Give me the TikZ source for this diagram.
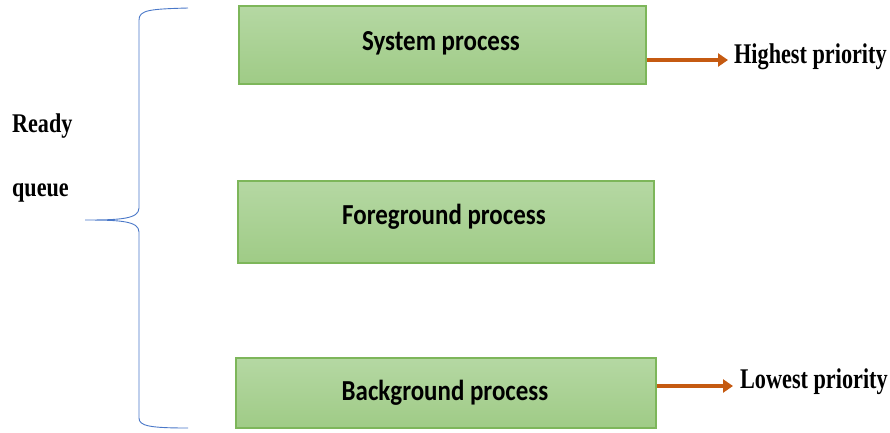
\documentclass[tikz,border=0pt]{standalone}
\usepackage{fontspec}
\setmainfont{Liberation Serif}
\newfontfamily\boxfont{Carlito}
\usepackage{xcolor}
\usetikzlibrary{arrows.meta}

\definecolor{boxtop}{HTML}{B5D8A3}
\definecolor{boxbot}{HTML}{9FCB86}
\definecolor{boxline}{HTML}{7DB65A}
\definecolor{arrowcol}{HTML}{C55A11}
\definecolor{bracecol}{HTML}{4A78C8}

\tikzset{
  procbox/.style={draw=boxline, line width=1.1pt, top color=boxtop, bottom color=boxbot,
    minimum width=#1, inner sep=0pt},
  proclabel/.style={font=\boxfont\bfseries\fontsize{29}{32}\selectfont, xscale=0.86, inner sep=0pt},
  prio/.style={font=\bfseries\fontsize{28.5}{30}\selectfont, xscale=0.78, anchor=west, inner sep=0pt},
  prioarrow/.style={arrowcol, line width=4.5pt, -{Triangle[length=10pt,width=13pt]}}
}

\begin{document}
\begin{tikzpicture}[x=1pt,y=1pt]
\useasboundingbox (0,0) rectangle (890,-432);
% the three process classes
\node[procbox=407pt, minimum height=78pt] (sys) at (442.5,-45) {};
\node[procbox=416pt, minimum height=82pt] (fg) at (446,-222) {};
\node[procbox=420pt, minimum height=70pt] (bg) at (446,-393) {};
\node[proclabel] (syst) at (441,-43) {System process};
\node[proclabel] (fgt) at (444,-217) {Foreground process};
\node[proclabel] (bgt) at (445,-393) {Background process};
% priority labels
\node[prio] (hi) at (734,-57) {Highest priority};
\node[prio] (lo) at (740,-382) {Lowest priority};
\draw[prioarrow, shorten >=6pt] (sys.east |- 0,-60) -- (hi.west |- 0,-60);
\draw[prioarrow, shorten >=7pt] (bg.east |- 0,-386) -- (lo.west |- 0,-386);
% brace for the ready queue
\coordinate (tip) at (85,-220);
\draw[bracecol, line width=0.9pt]
  (188,-8) .. controls (150,-9) and (139,-10) .. (139,-20)
  -- (139,-208) .. controls (139,-219) and (120,-220) .. (tip)
  .. controls (120,-220) and (139,-221) .. (139,-232)
  -- (139,-418) .. controls (139,-426) and (150,-428) .. (188,-428);
\node[font=\bfseries\fontsize{27}{64}\selectfont, xscale=0.82, anchor=north west, align=left, inner sep=0pt]
  (rq) at (12,-114) {Ready\\queue};
\end{tikzpicture}
\end{document}
